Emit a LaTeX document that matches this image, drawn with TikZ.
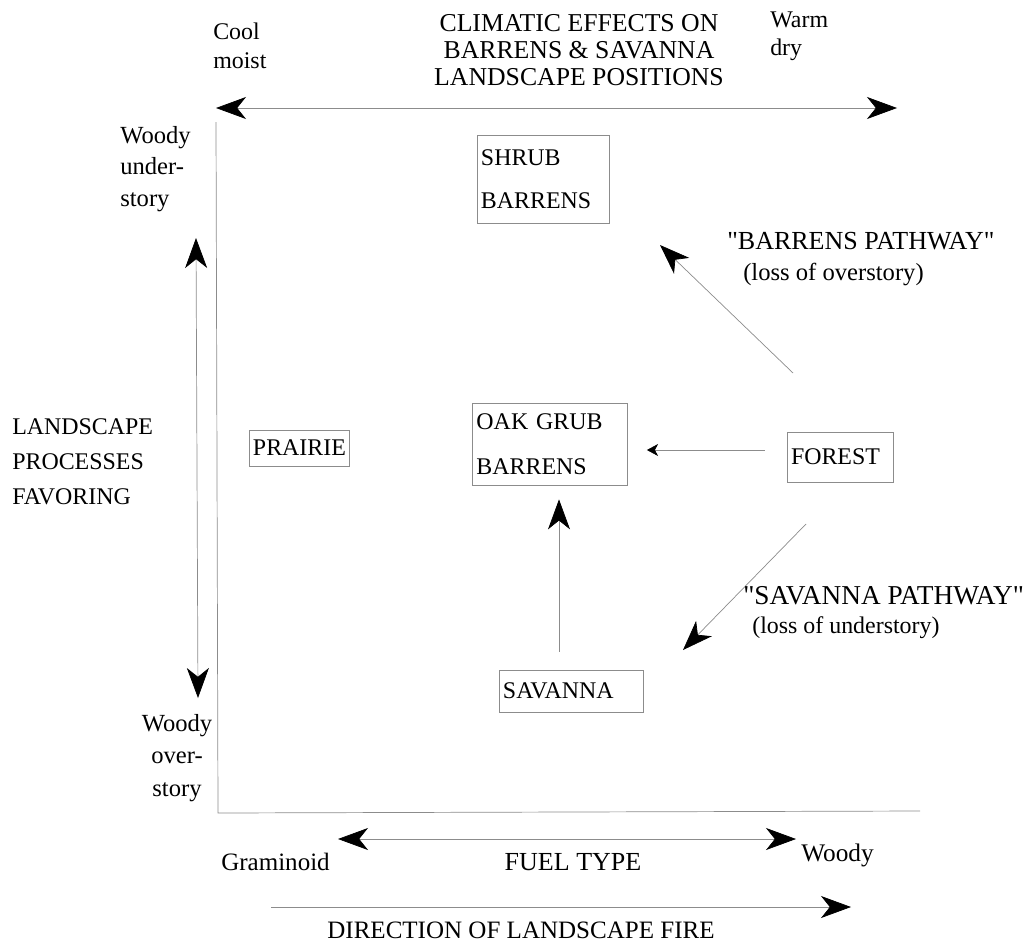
\documentclass[tikz,border=0pt]{standalone}
\usepackage{fontspec}
\setmainfont{Liberation Serif}
\usetikzlibrary{arrows.meta, positioning}
\definecolor{rule}{HTML}{8C8C8C}

\begin{document}
\begin{tikzpicture}[
    x=0.025cm, y=-0.025cm,
    box/.style={draw=rule, line width=0.5pt, align=left, inner xsep=0.1cm, inner ysep=0pt, font=\fontsize{17}{31}\selectfont},
    lbl/.style={align=left, inner sep=0pt, font=\fontsize{17.5}{22.3}\selectfont},
    heading/.style={align=center, inner sep=0pt, font=\fontsize{18.3}{19.3}\selectfont},
    arr/.style={-{Stealth[length=0.75cm, width=0.55cm, inset=0.22cm, color=black]}, draw=rule, line width=0.5pt},
    dblarr/.style={{Stealth[length=0.75cm, width=0.55cm, inset=0.22cm, color=black]}-{Stealth[length=0.75cm, width=0.55cm, inset=0.22cm, color=black]}, draw=rule, line width=0.5pt},
    smallarr/.style={-{Stealth[length=0.28cm, width=0.3cm, inset=0.08cm, color=black]}, draw=rule, line width=0.5pt}
]
    \useasboundingbox (0,0) rectangle (1030,947);

    % top axis
    \node[lbl, anchor=west, font=\fontsize{17}{21}\selectfont] (cool) at (213,46) {Cool\\moist};
    \node[heading] (title) at (579,50) {CLIMATIC EFFECTS ON\\BARRENS \& SAVANNA\\LANDSCAPE POSITIONS};
    \node[lbl, anchor=west, font=\fontsize{17}{20}\selectfont] (warm) at (770,36) {Warm\\dry};
    \coordinate (climL) at (216,108);
    \coordinate (climR) at (897,108);
    \draw[dblarr] (climL) -- (climR);

    % left axis
    \node[lbl, anchor=west] (under) at (120,169) {Woody\\under-\\story};
    \node[lbl, anchor=west, font=\fontsize{17}{24.8}\selectfont] (procs) at (12,462) {LANDSCAPE\\PROCESSES\\FAVORING};
    \node[lbl, align=center, font=\fontsize{17.5}{23}\selectfont] (over) at (177,758) {Woody\\over-\\story};
    \coordinate (woodyT) at (196,238);
    \coordinate (woodyB) at (198,698);
    \draw[dblarr] (woodyT) -- (woodyB);

    % frame
    \coordinate (fTop) at (216,122);
    \coordinate (fCorner) at (218,813);
    \coordinate (fRight) at (920,811);
    \draw[rule, line width=0.5pt] (fTop) -- (fCorner) -- (fRight);

    % communities
    \node[box, text width=2.3cm, minimum height=0.9cm] (prairie) at (299,448) {PRAIRIE};
    \node[box, text width=3.1cm, minimum height=2.2cm] (shrub) at (543,179) {SHRUB\\BARRENS};
    \node[box, text width=3.675cm, minimum height=2.05cm, font=\fontsize{17}{32}\selectfont] (oak) at (550,444) {OAK GRUB\\BARRENS};
    \node[box, text width=2.45cm, minimum height=1.25cm] (forest) at (840,457) {FOREST};
    \node[box, text width=3.4cm, minimum height=1.05cm] (savanna) at (571,691) {SAVANNA};

    \draw[smallarr, shorten <=0.55cm, shorten >=0.475cm] (forest.west |- 0,450) -- (oak.east |- 0,450);
    \draw[arr, shorten <=0.45cm, shorten >=0.35cm] ([xshift=-0.3cm]savanna.north) -- ([xshift=-0.3cm]savanna.north |- oak.south);

    % pathways
    \coordinate (bpFrom) at (793,373);
    \coordinate (bpTo) at (660,245);
    \draw[arr] (bpFrom) -- (bpTo);
    \node[lbl, anchor=west, font=\fontsize{18.5}{20}\selectfont] (bpath) at (727,241) {\textquotedbl BARRENS PATHWAY\textquotedbl};
    \node[lbl, anchor=west, font=\fontsize{17.5}{20}\selectfont] (bloss) at (743,274) {(loss of overstory)};

    \coordinate (spFrom) at (806,524);
    \coordinate (spTo) at (683,650);
    \draw[arr] (spFrom) -- (spTo);
    \node[lbl, anchor=west, font=\fontsize{19.4}{20}\selectfont] (spath) at (743,596) {\textquotedbl SAVANNA PATHWAY\textquotedbl};
    \node[lbl, anchor=west, font=\fontsize{17}{20}\selectfont] (sloss) at (752,628) {(loss of understory)};

    % bottom axes
    \coordinate (fuelL) at (338,839);
    \coordinate (fuelR) at (796,839);
    \draw[dblarr] (fuelL) -- (fuelR);
    \node[lbl, anchor=west, font=\fontsize{17.8}{20}\selectfont] (gram) at (221,862) {Graminoid};
    \node[heading, font=\fontsize{18.5}{20}\selectfont] (fuel) at (573,862) {FUEL TYPE};
    \node[lbl, anchor=west, font=\fontsize{18}{20}\selectfont] (woody) at (801,855) {Woody};

    \coordinate (fireL) at (271,907);
    \coordinate (fireR) at (851,907);
    \draw[arr] (fireL) -- (fireR);
    \node[heading, font=\fontsize{17.8}{20}\selectfont] (fire) at (521,930) {DIRECTION OF LANDSCAPE FIRE};
\end{tikzpicture}
\end{document}
